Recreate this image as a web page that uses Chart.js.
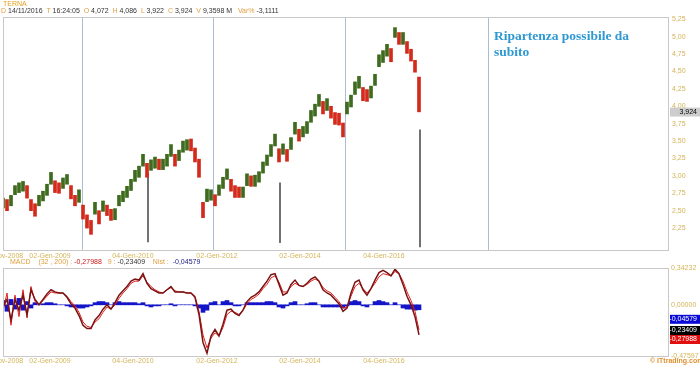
<!DOCTYPE html>
<html>
<head>
<meta charset="utf-8">
<script src="https://cdn.jsdelivr.net/npm/chart.js@4.4.1/dist/chart.umd.min.js"></script>
<style>
  body { margin:0; background:#fff; width:700px; height:365px; overflow:hidden; position:relative;
         font-family:"Liberation Sans", Arial, sans-serif; }
  canvas { position:absolute; left:0; }
  .t { position:absolute; font-size:7px; line-height:8px; white-space:nowrap; color:#333; z-index:2; }
  .o { color:#e0a040; }
  .note { position:absolute; left:494px; top:28px; font-family:"Liberation Serif", serif; font-weight:bold;
          font-size:13.5px; line-height:16px; color:#2f98d2; z-index:2; }
</style>
</head>
<body>
<div class="t o" style="left:3px;top:0px;color:#e8a020">TERNA</div>
<div class="t" style="left:1px;top:7px"><span class="o">D</span> 14/11/2016 &nbsp;<span class="o">T</span> 16:24:05 &nbsp;<span class="o">O</span> 4,072 &nbsp;<span class="o">H</span> 4,086 &nbsp;<span class="o">L</span> 3,922 &nbsp;<span class="o">C</span> 3,924 &nbsp;<span class="o">V</span> 9,3598 M &nbsp; <span class="o">Var%</span> -3,1111</div>
<div class="t" style="left:10px;top:258px"><span class="o">MACD &nbsp; &nbsp;(32 , 200) :</span> <span style="color:#d01818">-0,27988</span> &nbsp; <span class="o">9 :</span> -0,23409 &nbsp; &nbsp;<span class="o">Nist :</span> &nbsp;<span style="color:#1a1a80">-0,04579</span></div>
<div class="note">Ripartenza possibile da<br>subito</div>
<div class="t" style="left:650px;top:357px;color:#e09030;font-weight:bold">© ITtrading.com</div>

<canvas id="price" width="700" height="262" style="top:0"></canvas>
<canvas id="macd" width="700" height="103" style="top:262px"></canvas>

<script>
// bar index ticks (one bar every few sessions)
const xTickPos = [0, 11.75, 32.5, 53.5, 74.25, 95.25];
const xTickText = ["04-Nov-2008", "02-Gen-2009", "04-Gen-2010", "02-Gen-2012", "02-Gen-2014", "04-Gen-2016"];
const xMax = 166.25;

const highs = [
  2.68, 2.66, 2.72, 2.86, 2.90, 2.92, 2.86, 2.66, 2.60, 2.72,
  2.78, 2.88, 3.05, 2.93, 2.90, 2.97, 3.02, 2.86, 2.72, 2.80,
  2.58, 2.44, 2.36, 2.62, 2.50, 2.64, 2.58, 2.52, 2.53, 2.72,
  2.78, 2.85, 2.95, 3.08, 3.14, 3.31, 3.18, 3.23, 3.27, 3.24,
  3.24, 3.31, 3.45, 3.31, 3.37, 3.50, 3.52, 3.53, 3.40, 3.24,
  2.62, 2.81, 2.80, 2.73, 2.87, 2.98, 3.10, 2.95, 2.86, 2.84,
  2.84, 3.03, 3.00, 3.01, 3.06, 3.20, 3.30, 3.45, 3.60, 3.39,
  3.46, 3.38, 3.55, 3.77, 3.67, 3.71, 3.78, 3.94, 4.03, 4.17,
  4.07, 4.11, 4.00, 3.91, 3.90, 3.76, 4.06, 4.16, 4.35, 4.43,
  4.27, 4.24, 4.29, 4.46, 4.74, 4.80, 4.89, 4.83, 5.13, 5.06,
  5.06, 4.93, 4.82, 4.66, 4.42
];
const lows = [
  2.54, 2.50, 2.57, 2.73, 2.76, 2.78, 2.68, 2.50, 2.42, 2.57,
  2.64, 2.72, 2.88, 2.76, 2.75, 2.82, 2.88, 2.67, 2.57, 2.62,
  2.38, 2.25, 2.16, 2.45, 2.31, 2.49, 2.43, 2.36, 2.37, 2.57,
  2.63, 2.69, 2.79, 2.92, 2.98, 3.14, 2.98, 3.08, 3.11, 3.09,
  3.09, 3.14, 3.28, 3.14, 3.22, 3.34, 3.37, 3.36, 3.20, 2.98,
  2.40, 2.63, 2.65, 2.57, 2.72, 2.82, 2.95, 2.78, 2.69, 2.69,
  2.69, 2.86, 2.85, 2.85, 2.91, 3.04, 3.15, 3.28, 3.43, 3.20,
  3.31, 3.21, 3.38, 3.60, 3.50, 3.56, 3.61, 3.77, 3.86, 4.00,
  3.89, 3.94, 3.83, 3.74, 3.73, 3.56, 3.89, 3.99, 4.17, 4.26,
  4.08, 4.07, 4.12, 4.30, 4.57, 4.63, 4.72, 4.64, 4.99, 4.89,
  4.89, 4.76, 4.65, 4.49, 3.92
];
const lastClose = 3.924;
const priceTicks = [2.25, 2.5, 2.75, 3, 3.25, 3.5, 3.75, 4, 4.25, 4.5, 4.75, 5, 5.25];

// drawn annotations
const cycleLines = [19.75, 52.5, 85.5, 121.25];
const supportX = [36.25, 69.25, 104.25];
const supportLo = [2.05, 2.04, 1.98];
const supportHi = [3.04, 2.90, 3.66];

const macd = [
  -0.02, 0.05, -0.14, 0.05, -0.05, 0.09, -0.09, 0.14, 0.05, 0.00,
  0.05, 0.10, 0.14, 0.12, 0.11, 0.11, 0.07, 0.01, -0.03, -0.10,
  -0.19, -0.22, -0.22, -0.14, -0.10, -0.04, 0.00, -0.04, 0.02, 0.09,
  0.13, 0.17, 0.22, 0.24, 0.23, 0.29, 0.20, 0.15, 0.13, 0.11,
  0.11, 0.14, 0.17, 0.12, 0.12, 0.12, 0.11, 0.11, 0.07, -0.09,
  -0.35, -0.45, -0.29, -0.23, -0.29, -0.18, -0.05, -0.04, -0.08, -0.10,
  -0.05, 0.03, 0.07, 0.09, 0.12, 0.17, 0.22, 0.28, 0.29, 0.19,
  0.09, 0.11, 0.19, 0.23, 0.18, 0.17, 0.20, 0.24, 0.26, 0.22,
  0.14, 0.11, 0.09, 0.05, 0.01, -0.06, -0.03, 0.11, 0.21, 0.23,
  0.14, 0.09, 0.15, 0.23, 0.30, 0.32, 0.30, 0.27, 0.33, 0.29,
  0.19, 0.08, 0.00, -0.11, -0.28
];
const hist = [
  0.04, -0.06, 0.05, -0.04, 0.06, -0.05, 0.03, -0.03, 0.02, 0.00,
  0.01, 0.02, 0.02, 0.01, 0.00, 0.00, -0.01, -0.02, -0.02, -0.03,
  -0.03, -0.02, -0.01, 0.02, 0.03, 0.03, 0.02, 0.00, 0.02, 0.03,
  0.02, 0.02, 0.02, 0.02, 0.01, 0.02, -0.01, -0.02, -0.01, -0.01,
  0.00, 0.00, 0.01, -0.01, 0.00, 0.00, 0.00, 0.00, -0.01, -0.03,
  -0.07, -0.05, 0.02, 0.03, 0.00, 0.03, 0.04, 0.02, -0.01, -0.01,
  0.00, 0.02, 0.02, 0.02, 0.02, 0.02, 0.03, 0.03, 0.02, -0.02,
  -0.03, -0.01, 0.02, 0.03, 0.00, 0.00, 0.01, 0.02, 0.02, 0.00,
  -0.02, -0.02, -0.02, -0.02, -0.02, -0.03, -0.01, 0.03, 0.04, 0.03,
  -0.01, -0.02, 0.00, 0.03, 0.04, 0.03, 0.02, 0.00, 0.02, 0.00,
  -0.03, -0.04, -0.04, -0.05, -0.046
];
const macdMin = -0.47597, macdMax = 0.34232;
const lastValues = [
  { v: -0.04579, fill: "#0a0ad8", text: "-0,04579" },
  { v: -0.23409, fill: "#000000", text: "-0,23409" },
  { v: -0.27988, fill: "#e01010", text: "-0,27988" }
];

Chart.defaults.font.family = '"Liberation Sans", Arial, sans-serif';
Chart.defaults.font.size = 7;
const axisGold = "#d4b458";
const comma = (v, d) => v.toFixed(d).replace(".", ",");

// frame + vertical lines + value boxes
const panelPlugin = {
  id: "panel",
  beforeDatasetsDraw(chart, args, opts) {
    const { ctx, chartArea: a, scales } = chart;
    ctx.save();
    ctx.strokeStyle = "#a9bdd4";
    ctx.lineWidth = 1;
    (opts.vlines || []).forEach(v => {
      const x = Math.round(scales.x.getPixelForValue(v)) + 0.5;
      ctx.beginPath(); ctx.moveTo(x, a.top); ctx.lineTo(x, a.bottom); ctx.stroke();
    });
    ctx.restore();
  },
  afterDraw(chart, args, opts) {
    const { ctx, chartArea: a, scales } = chart;
    ctx.save();
    ctx.strokeStyle = "#c8c8c8";
    ctx.lineWidth = 1;
    ctx.strokeRect(a.left + 0.5, a.top + 0.5, a.right - a.left, a.bottom - a.top);
    let prev = opts.boxStart != null ? scales.y.getPixelForValue(opts.boxStart) + 5 : -1e9;
    (opts.boxes || []).forEach(b => {
      let y = Math.max(scales.y.getPixelForValue(b.v), prev + 9);
      prev = y;
      ctx.fillStyle = b.fill;
      ctx.fillRect(a.right + 2, y - 4, 700 - a.right - 2, 9);
      ctx.fillStyle = b.color || "#fff";
      ctx.font = '7px "Liberation Sans", Arial, sans-serif';
      ctx.textBaseline = "middle";
      ctx.textAlign = "right";
      ctx.fillText(b.text, 697, y + 0.5);
    });
    ctx.restore();
  }
};

const xAxis = (pad, h) => ({
  type: "linear", min: 0, max: xMax, offset: false,
  grid: { display: false, drawTicks: false }, border: { display: false },
  afterBuildTicks: s => { s.ticks = xTickPos.map(v => ({ value: v })); },
  ticks: { autoSkip: false, maxRotation: 0, padding: pad, color: axisGold,
           callback: (v, i) => xTickText[i] },
  afterFit: s => { s.height = h; s.paddingLeft = 0; s.paddingRight = 0; }
});

const upColor = "#3f6b1e", downColor = "#d42a1c";
const candleColors = highs.map((h, i) =>
  i > 0 && h + lows[i] < highs[i - 1] + lows[i - 1] ? downColor : upColor);

new Chart(document.getElementById("price"), {
  type: "bar",
  data: {
    datasets: [
      { data: highs.map((h, i) => ({ x: i, y: [lows[i], h] })),
        backgroundColor: candleColors, barThickness: 3, grouped: false },
      { data: supportX.map((x, i) => ({ x: x, y: [supportLo[i], supportHi[i]] })),
        backgroundColor: "#555", barThickness: 1, grouped: false }
    ]
  },
  options: {
    responsive: false, animation: false,
    layout: { padding: { left: 3, top: 17, right: 0, bottom: 0 }, autoPadding: false },
    plugins: {
      legend: { display: false }, tooltip: { enabled: false },
      panel: { vlines: cycleLines, boxes: [{ v: lastClose, fill: "#cdcdcd", color: "#000", text: comma(lastClose, 3) }] }
    },
    scales: {
      x: xAxis(2, 12),
      y: {
        position: "right", min: 1.935, max: 5.283,
        grid: { display: false, drawTicks: false }, border: { display: false },
        afterBuildTicks: s => { s.ticks = priceTicks.map(v => ({ value: v })); },
        ticks: { color: axisGold, padding: 4, callback: v => comma(v, 2) },
        afterFit: s => { s.width = 32; s.paddingTop = 0; s.paddingBottom = 0; }
      }
    }
  },
  plugins: [panelPlugin]
});

const signal = macd.map((m, i) => m - hist[i]);

new Chart(document.getElementById("macd"), {
  type: "bar",
  data: {
    datasets: [
      { type: "line", data: macd.map((v, i) => ({ x: i, y: v })), borderColor: "#7a1212",
        borderWidth: 1.5, pointRadius: 0, tension: 0, order: 0 },
      { type: "line", data: signal.map((v, i) => ({ x: i, y: v })), borderColor: "#e02020",
        borderWidth: 1, pointRadius: 0, tension: 0, order: 1 },
      { data: hist.map((v, i) => ({ x: i, y: v })), backgroundColor: "#1414c8",
        barThickness: 4, grouped: false, order: 2 }
    ]
  },
  options: {
    responsive: false, animation: false,
    layout: { padding: { left: 3, top: 6, right: 0, bottom: 0 }, autoPadding: false },
    plugins: {
      legend: { display: false }, tooltip: { enabled: false },
      panel: { boxStart: 0, boxes: lastValues }
    },
    scales: {
      x: xAxis(1, 9),
      y: {
        position: "right", min: macdMin, max: macdMax,
        grid: { display: false, drawTicks: false }, border: { display: false },
        afterBuildTicks: s => { s.ticks = [macdMin, 0, macdMax].map(v => ({ value: v })); },
        ticks: { color: axisGold, padding: 3, callback: v => comma(v, 5) },
        afterFit: s => { s.width = 32; s.paddingTop = 0; s.paddingBottom = 0; }
      }
    }
  },
  plugins: [panelPlugin]
});
</script>
</body>
</html>
